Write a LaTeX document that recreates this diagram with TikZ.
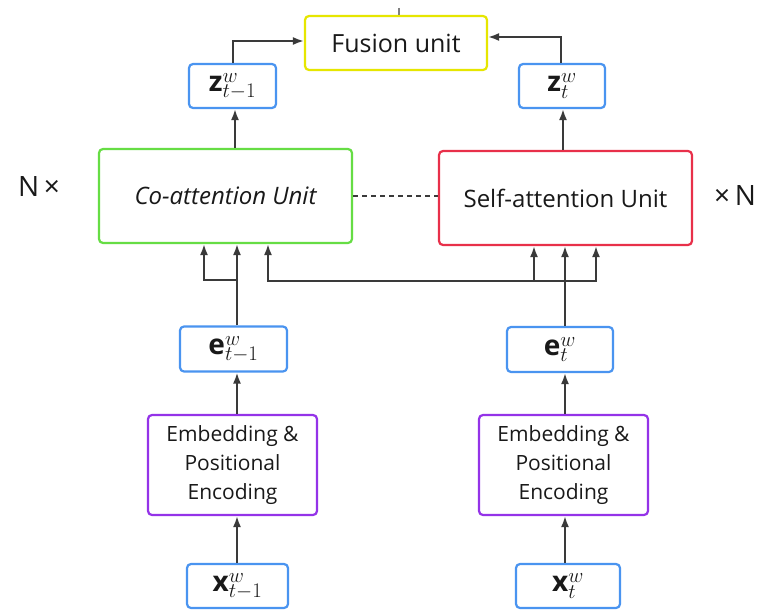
\documentclass[tikz,border=0pt]{standalone}
\usepackage{fontspec}
\setmainfont{Open Sans}
\usetikzlibrary{arrows.meta}
\definecolor{cblue}{HTML}{4A94F0}
\definecolor{cgreen}{HTML}{66DD44}
\definecolor{cred}{HTML}{E8304A}
\definecolor{cpurple}{HTML}{9433E8}
\definecolor{cyellow}{HTML}{E6E600}
\definecolor{cline}{HTML}{3A3A3A}
\tikzset{
  box/.style={draw, line width=2.2pt, rounded corners=4pt, fill=white, inner sep=0pt, align=center, text=black!90},
  vec/.style={box, draw=cblue, font=\fontsize{28}{30}\selectfont},
  conn/.style={draw=cline, line width=1.8pt, -{Latex[length=11pt,width=8pt]}},
  plain/.style={draw=cline, line width=1.8pt},
}
\begin{document}
\begin{tikzpicture}[x=1pt,y=-1pt]
\useasboundingbox[fill=white] (0,0) rectangle (761,610);
% nodes
\node[box, draw=cyellow, minimum width=182pt, minimum height=54pt, font=\fontsize{25}{28}\selectfont] (fusion) at (396,43) {Fusion unit};
\node[vec, minimum width=87pt, minimum height=44pt] (z1) at (232.5,86) {$\mathbf{z}^{w}_{t-1}$};
\node[vec, minimum width=86pt, minimum height=44pt] (z2) at (562,86) {$\mathbf{z}^{w}_{t}$};
\node[box, draw=cgreen, minimum width=253pt, minimum height=94pt, font=\fontsize{24}{26}\selectfont\itshape] (co) at (225.5,196) {Co-attention Unit};
\node[box, draw=cred, minimum width=253pt, minimum height=94pt, font=\fontsize{24}{26}\selectfont] (self) at (565.5,198) {Self-attention Unit};
\node[font=\fontsize{28}{30}\selectfont, text=black!90] (nl) at (39,187) {N\,×};
\node[font=\fontsize{28}{30}\selectfont, text=black!90] (nr) at (735,196) {×\,N};
\node[vec, minimum width=107pt, minimum height=45pt] (e1) at (233.5,349) {$\mathbf{e}^{w}_{t-1}$};
\node[vec, minimum width=106pt, minimum height=45pt] (e2) at (560,349.5) {$\mathbf{e}^{w}_{t}$};
\node[box, draw=cpurple, minimum width=169pt, minimum height=100pt, font=\fontsize{21}{29}\selectfont] (emb1) at (232.5,465) {Embedding \&\\Positional\\Encoding};
\node[box, draw=cpurple, minimum width=169pt, minimum height=100pt, font=\fontsize{21}{29}\selectfont] (emb2) at (563.5,465) {Embedding \&\\Positional\\Encoding};
\node[vec, minimum width=101pt, minimum height=44pt] (x1) at (237.5,586) {$\mathbf{x}^{w}_{t-1}$};
\node[vec, minimum width=104pt, minimum height=44pt] (x2) at (568,586) {$\mathbf{x}^{w}_{t}$};
% helper coordinates
\coordinate (cL) at (237,0);
\coordinate (cLb) at (204,0);
\coordinate (cLc) at (268,0);
\coordinate (cR) at (565,0);
\coordinate (cRa) at (534,0);
\coordinate (cRc) at (596,0);
\coordinate (cZl) at (235,0);
\coordinate (cZr) at (563,0);
\coordinate (zl) at (233,41);
\coordinate (zr) at (561,37);
\coordinate (br1) at (237,280);
\coordinate (br2) at (204,280);
\coordinate (lr1) at (268,281);
\coordinate (lr2) at (596,281);
\coordinate (lr3) at (534,281);
\coordinate (tick) at (399,8);
% connectors bottom
\draw[conn] (x1.north -| cL) -- (emb1.south -| cL);
\draw[conn] (x2.north -| cR) -- (emb2.south -| cR);
\draw[conn] (emb1.north -| cL) -- (e1.south -| cL);
\draw[conn] (emb2.north -| cR) -- (e2.south -| cR);
\draw[conn] (e1.north -| cL) -- (co.south -| cL);
\draw[conn] (e2.north -| cR) -- (self.south -| cR);
\draw[conn] (br1) -- (br2) -- (co.south -| cLb);
\draw[conn] (lr2) -- (lr1) -- (co.south -| cLc);
\draw[conn] (lr1) -- (lr2) -- (self.south -| cRc);
\draw[conn] (lr3) -- (self.south -| cRa);
% up to z
\draw[conn] (co.north -| cZl) -- (z1.south -| cZl);
\draw[conn] (self.north -| cZr) -- (z2.south -| cZr);
% to fusion
\draw[conn] (z1.north -| zl) -- (zl) -- (fusion.west |- zl);
\draw[conn] (z2.north -| zr) -- (zr) -- (fusion.east |- zr);
% dashed link
\draw[plain, dashed, dash pattern=on 5pt off 4pt] (co.east) -- (self.west |- co.east);
% tick
\draw[draw=gray, line width=1.5pt] (tick) -- (fusion.north -| tick);
\end{tikzpicture}
\end{document}
